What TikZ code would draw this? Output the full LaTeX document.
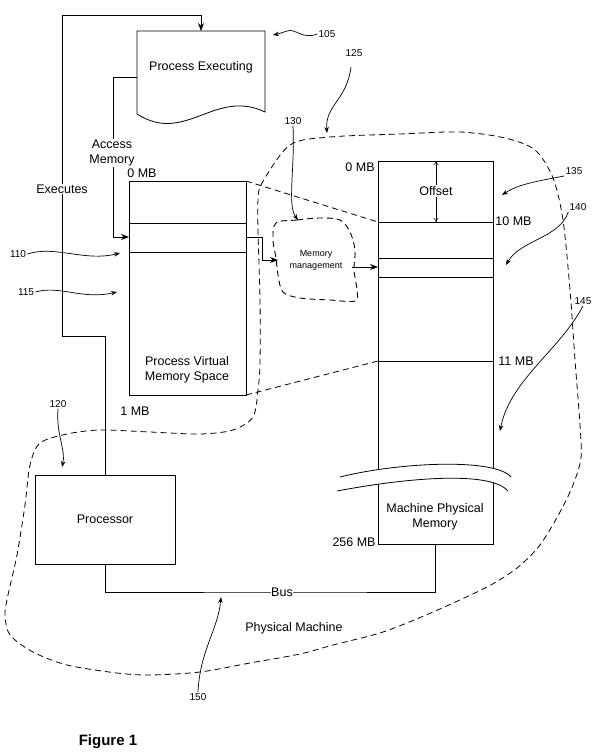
\documentclass[tikz,border=0pt]{standalone}
\usepackage{fontspec}
\setmainfont{Liberation Sans}
\usetikzlibrary{arrows.meta,calc}
\begin{document}
\begin{tikzpicture}[x=1pt,y=-1pt,line width=0.8pt,
  txt/.style={font=\fontsize{12.5}{15}\selectfont, inner sep=1pt, align=center},
  small/.style={font=\fontsize{10}{12}\selectfont, inner sep=1pt},
  tiny/.style={font=\fontsize{9}{12}\selectfont, inner sep=1pt, align=center},
  boxn/.style={draw, rectangle, inner sep=0pt, outer sep=0pt, anchor=north west},
  conn/.style={-{Stealth[length=8pt,width=6pt]}},
  refarrow/.style={-{Stealth[length=6pt,width=4.5pt]}, line width=0.7pt},
  dashline/.style={dash pattern=on 6pt off 4pt, line width=0.8pt}]

\useasboundingbox (0,0) rectangle (599,755);

% ---- big dashed loop (physical machine)
\draw[dashline] plot[smooth cycle, tension=0.5] coordinates {
 (262,183) (290,145) (330,137) (400,134) (460,132) (505,138) (535,150) (553,178)
 (563,220) (570,290) (575,360) (580,425) (581,458) (573,485) (560,512) (540,545)
 (517,568) (487,587) (433,612) (383,632) (333,645) (300,654) (250,663) (200,672)
 (150,675) (117,673) (67,665) (33,652) (10,635) (5,615) (8,595) (17,555) (25,505)
 (30,465) (40,443) (67,434) (100,430) (150,432) (200,434) (233,430) (253,417)
 (258,390) (260,363) (260,300) (258,230) (258,200)};

% ---- process executing document
\node[anchor=north west, minimum width=128pt, minimum height=83pt, inner sep=0pt, outer sep=0pt] (doc) at (137,31) {};
\draw (137,114) -- (137,31) -- (265,31) -- (265,112) .. controls (215,88) and (185,145) .. (137,114);
\node[txt] (doct) at (201,67) {Process Executing};

% ---- process virtual memory space
\node[boxn, minimum width=117pt, minimum height=214pt] (pvms) at (129,181) {};
\draw (129,223) -- (246,223);
\draw (129,252) -- (246,252);
\node[txt] (pvmst) at (187,370) {Process Virtual\\Memory Space};
\node[txt] (p0) at (142,173) {0 MB};
\node[txt] (p1) at (135,411) {1 MB};

% ---- machine physical memory
\node[boxn, minimum width=115pt, minimum height=383pt] (mem) at (378,161) {};
\draw (378,222) -- (493,222);
\draw[line width=0.6pt] (378,258) -- (493,258);
\draw (378,277) -- (493,277);
\draw (378,361) -- (493,361);
\node[txt] (memt) at (435,517) {Machine Physical\\Memory};
\node[txt, anchor=east] (m0) at (376,167) {0 MB};
\node[txt, anchor=west] (m10) at (494,221) {10 MB};
\node[txt, anchor=west] (m11) at (497,361) {11 MB};
\node[txt, anchor=east] (m256) at (377,542) {256 MB};
\draw[{To[length=4pt,width=5pt]}-{To[length=4pt,width=5pt]}, line width=0.5pt] (436,161) -- (436,222);
\node[txt, fill=white] (off) at (436,191) {Offset};

% break symbol
\fill[white] (340,477) .. controls (400,462) and (495,458) .. (511,477) -- (508,491) .. controls (492,472) and (417,476) .. (337,491) -- cycle;
\draw (340,477) .. controls (400,462) and (495,458) .. (511,477);
\draw (337,491) .. controls (417,476) and (492,472) .. (508,491);

% ---- processor
\node[boxn, txt, minimum width=140pt, minimum height=89pt] (proc) at (35,475) {};
\node[txt] (proct) at (proc.center) {Processor};

% ---- memory management blob
\draw[dashline, line width=0.9pt] plot[smooth cycle, tension=0.55] coordinates {
 (276,223) (297,220) (320,218) (340,220) (350,232) (355,250) (354,270) (357,290)
 (355,301) (330,300) (300,298) (283,292) (278,275) (276,258) (273,240)};
\node[tiny] (mmt) at (316,260) {Memory\\management};

% ---- connectors
\coordinate (dl) at (137,77);
\coordinate (pin) at (129,237);
\draw[conn] (dl) -| (113,237) -- (pin);
\node[txt, fill=white] (acc) at (112,153) {Access\\Memory};

\draw[conn] (proc.north) |- (62,336) -- (62,15) -| (doc.north);
\node[txt, fill=white] (exe) at (62,189) {Executes};

\coordinate (pout) at (246,237);
\coordinate (mmin) at (278,260);
\draw[conn] (pout) -- (262,237) -- (262,260) -- (mmin);

\coordinate (mmout) at (352,267);
\draw[conn] (mmout) -- (mmout -| mem.west);

\draw (proc.south) |- (300,592) -| (mem.south);
\node[txt, fill=white, inner sep=0.5pt] (bus) at (282,592) {Bus};

\coordinate (m10c) at (378,222);
\coordinate (m11c) at (378,361);
\draw[dashline] (pvms.north east) -- (m10c);
\draw[dashline] (pvms.south east) -- (m11c);

\node[txt] (pm) at (294,628) {Physical Machine};

% ---- reference numerals
\node[small] (l105) at (327,34) {105};
\coordinate (t105) at (273,35);
\draw[refarrow] (l105.west) .. controls (302,40) and (296,28) .. (287,31) .. controls (281,33) and (278,34) .. (t105);

\node[small] (l125) at (354,53) {125};
\coordinate (t125) at (327,133);
\draw[refarrow] (351,67) .. controls (347,100) and (325,105) .. (t125);

\node[small] (l130) at (293,121) {130};
\coordinate (t130) at (298,220);
\draw[refarrow] (l130.south) .. controls (295,170) and (287,205) .. (t130);

\node[small] (l135) at (574,171) {135};
\coordinate (t135) at (502,195);
\draw[refarrow] (l135.south west) .. controls (545,180) and (520,183) .. (t135);

\node[small] (l140) at (578,207) {140};
\coordinate (t140) at (506,265);
\draw[refarrow] (l140.south west) .. controls (560,238) and (520,240) .. (t140);

\node[small] (l145) at (583,301) {145};
\coordinate (t145) at (500,431);
\draw[refarrow] (l145.south) .. controls (560,350) and (510,380) .. (t145);

\node[small] (l110) at (18,254) {110};
\coordinate (t110) at (120,253);
\draw[refarrow] (l110.east) .. controls (55,245) and (85,262) .. (t110);

\node[small] (l115) at (26,292) {115};
\coordinate (t115) at (117,292);
\draw[refarrow] (l115.east) .. controls (60,285) and (82,300) .. (t115);

\node[small] (l120) at (58,404) {120};
\coordinate (t120) at (62,467);
\draw[refarrow] (l120.south) .. controls (56,435) and (66,450) .. (t120);

\node[small] (l150) at (198,697) {150};
\coordinate (t150) at (221,597);
\draw[refarrow] (l150.north) .. controls (200,650) and (218,630) .. (t150);

\node[font=\bfseries\fontsize{15}{18}\selectfont] (fig) at (108,742) {Figure 1};
\end{tikzpicture}
\end{document}
